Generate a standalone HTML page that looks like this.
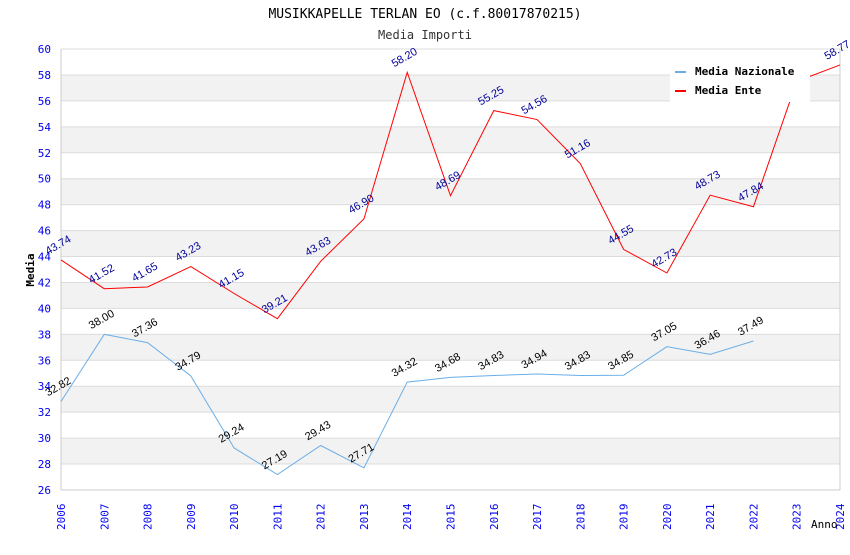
<!DOCTYPE html>
<html><head><meta charset="utf-8"><style>
body{margin:0;background:#fff;}
svg text{font-family:"DejaVu Sans Mono","Liberation Mono",monospace;}
svg text.vl{font-family:"Liberation Sans",sans-serif;}
</style></head><body>
<svg id="c" width="850" height="550" xmlns="http://www.w3.org/2000/svg"></svg>
<script>
const years=[2006,2007,2008,2009,2010,2011,2012,2013,2014,2015,2016,2017,2018,2019,2020,2021,2022,2023,2024];
const nazionale=[32.82,38.00,37.36,34.79,29.24,27.19,29.43,27.71,34.32,34.68,34.83,34.94,34.83,34.85,37.05,36.46,37.49,null,null];
const ente=[43.74,41.52,41.65,43.23,41.15,39.21,43.63,46.90,58.20,48.69,55.25,54.56,51.16,44.55,42.73,48.73,47.84,57.50,58.77];
const yTicks=[26,28,30,32,34,36,38,40,42,44,46,48,50,52,54,56,58,60];
const NS="http://www.w3.org/2000/svg";
const svg=document.getElementById('c');
const X0=61,X1=840,Y0=490,Y1=49,YMIN=26,YMAX=60;
const xs=i=>X0+(X1-X0)*i/(years.length-1);
const ys=v=>Y0-(v-YMIN)/(YMAX-YMIN)*(Y0-Y1);
function mk(t,a,p){const e=document.createElementNS(NS,t);for(const k in a)e.setAttribute(k,a[k]);(p||svg).appendChild(e);return e;}
for(let v=26;v<60;v+=2){
 if((v-28)%4===0){const r=mk('rect',{x:X0,y:ys(v+2),width:X1-X0,height:ys(v)-ys(v+2),fill:'#f2f2f2'});
 
 }
}
yTicks.forEach(v=>{
 const l=mk('line',{x1:X0,x2:X1,y1:ys(v),y2:ys(v),stroke:'#dcdcdc','stroke-width':1});
 
 
 const t=mk('text',{x:X0-10,y:ys(v)+4,'text-anchor':'end','font-size':11,fill:'#0000ee'});
 t.textContent=v;
 
 
});
mk('line',{x1:X0,x2:X0,y1:Y1,y2:Y0,stroke:'#ccc'});
mk('line',{x1:X1,x2:X1,y1:Y1,y2:Y0,stroke:'#ccc'});
mk('line',{x1:X0,x2:X1,y1:Y0,y2:Y0,stroke:'#ccc'});
years.forEach((y,i)=>{
 const t=mk('text',{transform:`translate(${xs(i)+4},${Y0+40}) rotate(-90)`,'font-size':11,fill:'#0000ee'});
 t.textContent=y;
 
 
});
function series(data,color,lblColor,name){
 let d='';data.forEach((v,i)=>{if(v!=null)d+=(d?'L':'M')+xs(i)+','+ys(v);});
 const p=mk('path',{d:d,fill:'none',stroke:color,'stroke-width':1});
 
 
 data.forEach((v,i)=>{if(v==null)return;
  const t=mk('text',{class:'vl',transform:`translate(${xs(i)-13},${ys(v)-5}) rotate(-30)`,'font-size':11,fill:lblColor});
  t.textContent=v.toFixed(2);
  
  
 });
}
series(nazionale,'#6aaee8','#000','nazionale');
series(ente,'#ff0000','#000099','ente');
const lg=mk('g',{});


mk('rect',{x:670,y:57,width:140,height:45,fill:'#fff'},lg);
mk('line',{x1:675,x2:686,y1:72,y2:72,stroke:'#6aaee8','stroke-width':2},lg);
mk('line',{x1:675,x2:686,y1:91,y2:91,stroke:'#ff0000','stroke-width':2},lg);
let t=mk('text',{x:695,y:75,'font-size':11,'font-weight':'bold'},lg);t.textContent='Media Nazionale';
t=mk('text',{x:695,y:94,'font-size':11,'font-weight':'bold'},lg);t.textContent='Media Ente';
t=mk('text',{x:425,y:18,'text-anchor':'middle','font-size':13});t.textContent='MUSIKKAPELLE TERLAN EO (c.f.80017870215)';

t=mk('text',{x:425,y:39,'text-anchor':'middle','font-size':12,fill:'#333'});t.textContent='Media Importi';

t=mk('text',{transform:'translate(34,270) rotate(-90)','text-anchor':'middle','font-size':11,'font-weight':'bold'});t.textContent='Media';

t=mk('text',{x:811,y:528,'font-size':11});t.textContent='Anno';

</script>
</body></html>
